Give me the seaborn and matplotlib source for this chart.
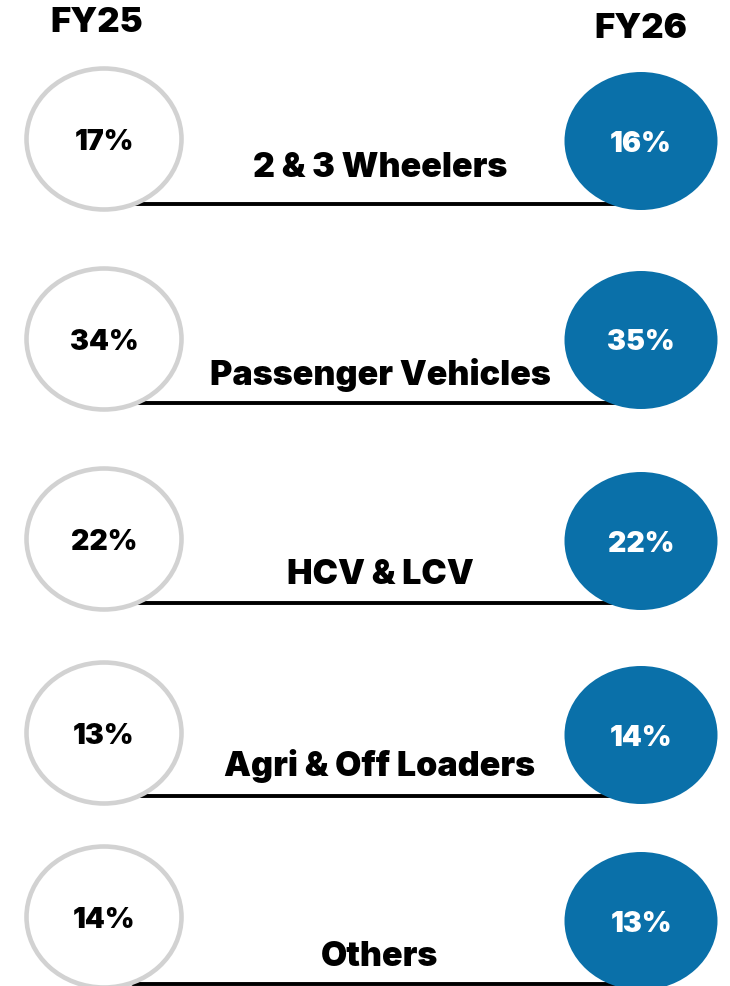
import matplotlib
matplotlib.use("Agg")
import matplotlib.pyplot as plt
from matplotlib.patches import Ellipse
import seaborn as sns
import pandas as pd

# ---- data ----
categories = ["2 & 3 Wheelers", "Passenger Vehicles", "HCV & LCV", "Agri & Off Loaders", "Others"]
fy25 = [17, 34, 22, 13, 14]
fy26 = [16, 35, 22, 14, 13]
years = ["FY25", "FY26"]

# ---- layout (pixel space) ----
W, H = 730, 987
row_y = [140, 340, 540, 734, 918]      # left circle centres
right_dy = [2, 1, 2, 2, 4]
line_y = [205, 404, 604, 797, 985]
label_y = [168, 375, 575, 766, 957]
line_x = [(135, 617), (135, 617), (133, 615), (133, 615), (133, 615)]
lx, rx = 104, 641
BLUE = "#0a70a9"
GREY = "#d2d2d2"

sns.set_theme(style="white")
plt.rcParams["font.family"] = ["Inter", "DejaVu Sans"]
W8 = 900

fig = plt.figure(figsize=(W / 100, H / 100), dpi=100)
ax = fig.add_axes([0, 0, 1, 1])

# connecting lines via seaborn
recs = []
for i, (x0, x1) in enumerate(line_x):
    recs.append({"row": i, "x": x0, "y": line_y[i]})
    recs.append({"row": i, "x": x1, "y": line_y[i]})
df = pd.DataFrame(recs)
sns.lineplot(data=df, x="x", y="y", units="row", estimator=None, color="black",
             linewidth=2.8, ax=ax, legend=False, zorder=1)
ax.set_xlim(0, W)
ax.set_ylim(H, 0)
ax.axis("off")

for i, cat in enumerate(categories):
    cy = row_y[i]
    ax.add_patch(Ellipse((lx, cy), 155, 141, facecolor="white", edgecolor=GREY,
                         linewidth=3.3, zorder=2))
    ax.add_patch(Ellipse((rx, cy + right_dy[i]), 153, 138, facecolor=BLUE,
                         edgecolor="none", zorder=2))
    ax.text(lx, cy + 2, f"{fy25[i]}%", ha="center", va="center", fontsize=20.5,
            fontweight=W8, color="black", zorder=3)
    ax.text(rx, cy + right_dy[i] + 2, f"{fy26[i]}%", ha="center", va="center", fontsize=20.5,
            fontweight=W8, color="white", zorder=3)
    ax.text(380, label_y[i], cat, ha="center", va="center", fontsize=24.5,
            fontweight=W8, color="black", zorder=3)

ax.text(97, 23, years[0], ha="center", va="center", fontsize=25, fontweight=W8, color="black")
ax.text(641, 29, years[1], ha="center", va="center", fontsize=25, fontweight=W8, color="black")

fig.savefig("out.png", dpi=100, facecolor="white")
